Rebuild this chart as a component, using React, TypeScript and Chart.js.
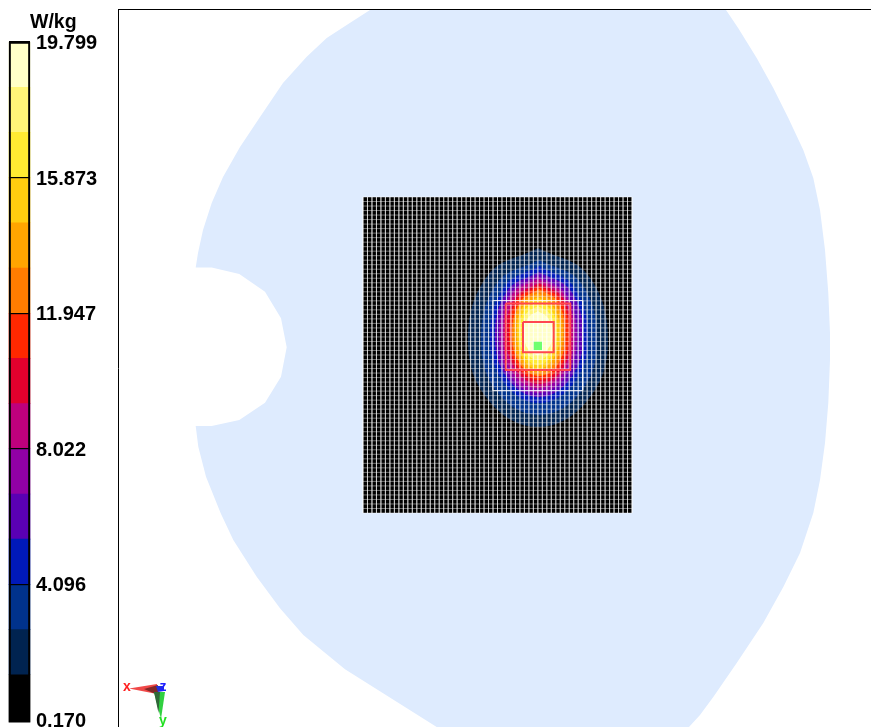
import React, { useEffect, useRef } from "react";
import { Chart, registerables } from "chart.js";

Chart.register(...registerables);

type Pt = [number, number];

// Colour scale (W/kg)
const bandEdges = [0.17, 1.479, 2.787, 4.096, 5.405, 6.713, 8.022, 9.331, 10.639, 11.947, 13.256, 14.565, 15.873, 17.182, 18.49, 19.799];
const bandFloor = 0.11;
const bandColors = [
  "#000000", "#002350", "#00328c", "#0019b9", "#5a00b4", "#9100a5", "#be007d",
  "#e1002d", "#ff2800", "#ff7d00", "#ffa500", "#ffcd0f", "#ffeb32", "#fff578", "#ffffc8",
];
const scaleTicks = [0.17, 4.096, 8.022, 11.947, 15.873, 19.799];

// Phantom outline
const phantom: Pt[] = [
  [370, 10], [346.7, 25], [326.7, 38], [306.7, 56.7], [283, 83], [260, 117], [240, 147], [223, 177], [211.7, 203], [203, 230], [198, 253], [195.7, 267.5],
  [211.7, 267.5], [239.3, 274], [265, 291.7], [281, 318.3], [286.7, 347.3], [281, 376.7], [265, 402.7], [239.3, 420], [211.7, 426], [195.7, 426],
  [198.3, 446.7], [206, 476.7], [220.7, 513.3], [233.3, 540], [256.7, 576.7], [280, 608.3], [303.3, 635], [345, 669.3], [436.7, 727],
  [689, 727], [700, 715], [713.3, 697], [736.7, 663], [763.3, 623], [783.3, 587], [800, 553], [813.3, 513], [820, 480], [825, 443], [828.3, 403], [830, 360],
  [830, 333], [828.3, 293], [825, 250], [820, 210], [813.3, 178], [803.3, 150], [788.3, 118], [773.3, 88], [756.7, 58], [738.3, 28.3], [726, 10],
];

// Measurement area
const areaBox: Pt[] = [[363, 197], [632, 197], [632, 513], [363, 513], [363, 197]];
const gridCols = 60;
const gridRows = 70;

// Iso-SAR contours, one per colour band above the lowest
const contour01: Pt[] = [[538, 248], [588, 275], [608, 342], [587, 401], [538, 427], [489, 401], [468, 342], [488, 275], [538, 248]];
const contour02: Pt[] = [[539, 260], [581, 283], [597, 342], [580, 393], [539, 415], [498, 393], [481, 342], [497, 283], [539, 260]];
const contour03: Pt[] = [[539, 266], [574, 287], [588, 339], [573, 384], [539, 403], [505, 384], [490, 339], [504, 287], [539, 266]];
const contour04: Pt[] = [[539, 272], [571, 291], [583, 338], [570, 379], [539, 397], [508, 379], [495, 338], [507, 291], [539, 272]];
const contour05: Pt[] = [[538, 276], [566, 294], [577, 338], [565, 377], [538, 393], [511, 377], [499, 338], [510, 294], [538, 276]];
const contour06: Pt[] = [[538, 279], [564, 295], [574, 337], [563, 373], [538, 388], [513, 373], [503, 337], [512, 295], [538, 279]];
const contour07: Pt[] = [[539, 283], [563, 298], [571, 336], [562, 370], [539, 384], [516, 370], [506, 336], [515, 298], [539, 283]];
const contour08: Pt[] = [[539, 286], [561, 300], [569, 336], [560, 367], [539, 380], [518, 367], [509, 336], [517, 300], [539, 286]];
const contour09: Pt[] = [[539, 289], [558, 302], [565, 335], [558, 364], [539, 376], [520, 364], [512, 335], [520, 302], [539, 289]];
const contour10: Pt[] = [[538, 293], [556, 305], [563, 335], [555, 362], [538, 373], [521, 362], [514, 335], [520, 305], [538, 293]];
const contour11: Pt[] = [[538, 297], [554, 308], [560, 335], [553, 359], [538, 369], [523, 359], [517, 335], [522, 308], [538, 297]];
const contour12: Pt[] = [[538, 302], [552, 311], [557, 335], [551, 356], [538, 365], [525, 356], [519, 335], [524, 311], [538, 302]];
const contour13: Pt[] = [[538, 306], [550, 314], [555, 335], [550, 352], [538, 360], [526, 352], [522, 335], [526, 314], [538, 306]];
const contour14: Pt[] = [[538, 311], [548, 318], [553, 334], [548, 349], [538, 355], [528, 349], [524, 334], [528, 318], [538, 311]];
const contours = [contour01, contour02, contour03, contour04, contour05, contour06, contour07, contour08, contour09, contour10, contour11, contour12, contour13, contour14];

// Overlays
const zoomScanBox: Pt[] = [[492.7, 300.5], [582.7, 300.5], [582.7, 390.5], [492.7, 390.5], [492.7, 300.5]];
const averaging10g: Pt[] = [[505.7, 303.5], [570.3, 303.5], [570.3, 370], [505.7, 370], [505.7, 303.5]];
const averaging1g: Pt[] = [[523, 322], [553.7, 322], [553.7, 352.3], [523, 352.3], [523, 322]];
const peakMarker: Pt[] = [[533.7, 341.7], [542, 341.7], [542, 350], [533.7, 350], [533.7, 341.7]];

// Axis triad
const triadRed: Pt[] = [[129, 688.5], [157, 684], [157, 694]];
const triadRedDark: Pt[] = [[144, 689], [158, 685], [158, 695]];
const triadGreen: Pt[] = [[154, 692], [165, 692], [161, 719]];
const triadGreenDark: Pt[] = [[154, 692], [160, 692], [158.5, 713]];
const triadBlue: Pt[] = [[156, 686], [164, 686], [164, 691], [158, 692]];
const triadLabels = [
  { text: "x", x: 127, y: 691, color: "#ff2020" },
  { text: "z", x: 163, y: 691, color: "#2020ff" },
  { text: "y", x: 163, y: 725, color: "#20e020" },
];

const toXY = (pts: Pt[]) => pts.map(([x, y]) => ({ x, y }));

function shape(pts: Pt[], color: string, tension = 0) {
  return {
    data: toXY(pts), showLine: true, fill: "shape" as const, backgroundColor: color,
    borderWidth: 0, borderColor: color, pointRadius: 0, tension,
  };
}
function outline(pts: Pt[], color: string, width: number) {
  return {
    data: toXY(pts), showLine: true, fill: false, borderColor: color,
    borderWidth: width, pointRadius: 0, tension: 0,
  };
}
function gridLines() {
  const pts: { x: number | null; y: number | null }[] = [];
  const [left, top] = areaBox[0];
  const [right, bottom] = areaBox[2];
  for (let i = 0; i <= gridCols; i++) {
    const x = left + ((right - left) * i) / gridCols;
    pts.push({ x, y: top }, { x, y: bottom }, { x: null, y: null });
  }
  for (let j = 0; j <= gridRows; j++) {
    const y = top + ((bottom - top) * j) / gridRows;
    pts.push({ x: left, y }, { x: right, y }, { x: null, y: null });
  }
  return pts;
}

const FONT = "'Liberation Sans', Arial, sans-serif";

export default function App() {
  const mainRef = useRef<HTMLCanvasElement>(null);
  const barRef = useRef<HTMLCanvasElement>(null);

  useEffect(() => {
    const layers: any[] = [
      shape(phantom, "#deebfe"),
      shape(areaBox, "#000000"),
      ...contours.map((c, i) => shape(c, bandColors[i + 1], 0.4)),
      { data: gridLines(), showLine: true, fill: false, borderColor: "rgba(255,255,255,0.62)", borderWidth: 0.7, pointRadius: 0, spanGaps: false, tension: 0 },
      outline(zoomScanBox, "rgba(255,255,255,0.8)", 1),
      outline(averaging10g, "#ff4650", 1.8),
      outline(averaging1g, "#ff4650", 2),
      shape(peakMarker, "#6eff6e"),
      shape(triadRed, "#f04848"),
      shape(triadRedDark, "#802828"),
      shape(triadGreen, "#30d040"),
      shape(triadGreenDark, "#306838"),
      shape(triadBlue, "#2030e0"),
    ];
    const n = layers.length;
    layers.forEach((l, i) => { l.order = n - i; });

    const main = new Chart(mainRef.current!, {
      type: "scatter",
      data: { datasets: layers },
      options: {
        animation: false, responsive: false, events: [],
        layout: { padding: { top: 9, left: 0, right: 0, bottom: 0 } },
        plugins: { legend: { display: false }, tooltip: { enabled: false }, title: { display: false } },
        scales: {
          x: {
            type: "linear", position: "top", min: 118, max: 871,
            ticks: { display: false }, grid: { display: false, drawTicks: false },
            border: { display: true, color: "#000", width: 1 },
            afterFit: (a: any) => { a.height = 0; a.paddingLeft = 0; a.paddingRight = 0; },
          },
          y: {
            type: "linear", position: "left", min: 9, max: 727, reverse: true,
            ticks: { display: false }, grid: { display: false, drawTicks: false },
            border: { display: true, color: "#000", width: 1 },
            afterFit: (a: any) => { a.width = 0; a.paddingTop = 0; a.paddingBottom = 0; },
          },
        },
      },
      plugins: [{
        id: "triadText",
        afterDatasetsDraw(chart: any) {
          const { ctx, scales } = chart;
          ctx.save();
          ctx.font = `bold 14px ${FONT}`;
          ctx.textAlign = "center";
          ctx.textBaseline = "alphabetic";
          for (const l of triadLabels) {
            ctx.fillStyle = l.color;
            ctx.fillText(l.text, scales.x.getPixelForValue(l.x), scales.y.getPixelForValue(l.y));
          }
          ctx.restore();
        },
      }],
    } as any);

    const bands = bandColors.map((c, i) => ({
      data: [[i === 0 ? bandFloor : bandEdges[i], bandEdges[i + 1]]], backgroundColor: c, borderWidth: 0,
      grouped: false, barPercentage: 1, categoryPercentage: 1, order: 2, clip: false,
    }));
    const frame = {
      data: [[bandFloor, bandEdges[bandEdges.length - 1]]],
      backgroundColor: "rgba(0,0,0,0)", borderColor: "#000", borderWidth: 1.5,
      grouped: false, barPercentage: 1, categoryPercentage: 1, order: 1, clip: false,
    };

    const bar = new Chart(barRef.current!, {
      type: "bar",
      data: { labels: ["SAR"], datasets: [...bands, frame] },
      options: {
        animation: false, responsive: false, events: [],
        layout: { padding: { top: 42, left: 9, right: 0, bottom: 7 } },
        plugins: { legend: { display: false }, tooltip: { enabled: false } },
        scales: {
          x: { display: false, afterFit: (a: any) => { a.paddingLeft = 0; a.paddingRight = 0; } },
          y: {
            position: "right", min: bandEdges[0], max: bandEdges[bandEdges.length - 1],
            afterBuildTicks: (a: any) => { a.ticks = scaleTicks.map((value) => ({ value })); },
            afterFit: (a: any) => { a.width = 88; a.paddingTop = 0; a.paddingBottom = 0; },
            ticks: {
              autoSkip: false, padding: 6, color: "#000", labelOffset: 1.5,
              font: { family: FONT, size: 20, weight: "bold" },
              callback: (v: any) => Number(v).toFixed(3),
            },
            grid: { color: "#000", lineWidth: 1.2, drawTicks: false, z: 1 },
            border: { display: false },
          },
        },
      },
      plugins: [{
        id: "unitLabel",
        afterDraw(chart: any) {
          const { ctx } = chart;
          ctx.save();
          ctx.font = `bold 19.5px ${FONT}`;
          ctx.fillStyle = "#000";
          ctx.textAlign = "left";
          ctx.textBaseline = "alphabetic";
          ctx.fillText("W/kg", 30, 28);
          ctx.restore();
        },
      }],
    } as any);

    return () => { main.destroy(); bar.destroy(); };
  }, []);

  return (
    <div style={{ position: "fixed", left: 0, top: 0, width: 871, height: 727, overflow: "hidden", background: "#fff" }}>
      <canvas ref={barRef} width={118} height={727} style={{ position: "absolute", left: 0, top: 0 }} />
      <canvas ref={mainRef} width={753} height={727} style={{ position: "absolute", left: 118, top: 0 }} />
    </div>
  );
}
